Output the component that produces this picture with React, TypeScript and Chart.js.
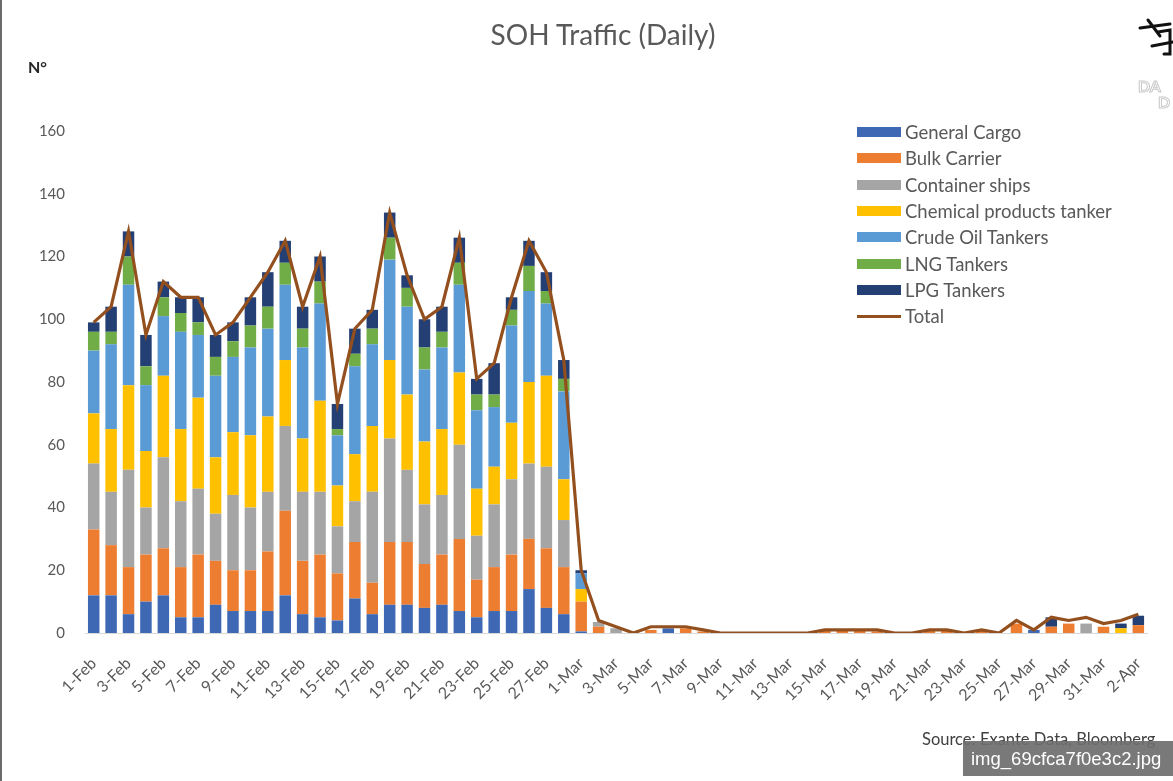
import React, { useEffect, useRef } from "react";
import { Chart, registerables } from "chart.js";

Chart.register(...registerables);

// ---------- data ----------
const categories = [
  "1-Feb", "2-Feb", "3-Feb", "4-Feb", "5-Feb", "6-Feb", "7-Feb", "8-Feb", "9-Feb", "10-Feb",
  "11-Feb", "12-Feb", "13-Feb", "14-Feb", "15-Feb", "16-Feb", "17-Feb", "18-Feb", "19-Feb", "20-Feb",
  "21-Feb", "22-Feb", "23-Feb", "24-Feb", "25-Feb", "26-Feb", "27-Feb", "28-Feb",
  "1-Mar", "2-Mar", "3-Mar", "4-Mar", "5-Mar", "6-Mar", "7-Mar", "8-Mar", "9-Mar", "10-Mar",
  "11-Mar", "12-Mar", "13-Mar", "14-Mar", "15-Mar", "16-Mar", "17-Mar", "18-Mar", "19-Mar", "20-Mar",
  "21-Mar", "22-Mar", "23-Mar", "24-Mar", "25-Mar", "26-Mar", "27-Mar", "28-Mar", "29-Mar", "30-Mar",
  "31-Mar", "1-Apr", "2-Apr",
];

const generalCargo = [
  12, 12, 6, 10, 12, 5, 5, 9, 7, 7, 7, 12, 6, 5, 4, 11, 6, 9, 9, 8, 9, 7, 5, 7, 7, 14, 8, 6,
  0.5, 0, 0, 0, 0, 1.5, 0, 0, 0, 0, 0, 0, 0, 0, 0, 0, 0, 0, 0, 0, 0, 0, 0, 0, 0, 0, 1, 0, 0, 0, 0, 0, 0,
];
const bulkCarrier = [
  21, 16, 15, 15, 15, 16, 20, 14, 13, 13, 19, 27, 17, 20, 15, 18, 10, 20, 20, 14, 16, 23, 12, 14, 18, 16, 19, 15,
  9.5, 2, 0, 0, 1, 0, 1.5, 0.5, 0, 0, 0, 0, 0, 0, 1, 1, 1, 0.5, 0, 0, 1, 1, 0, 1, 0, 3, 0, 2, 3, 0, 2, 0, 2.5,
];
const containerShips = [
  21, 17, 31, 15, 29, 21, 21, 15, 24, 20, 19, 27, 22, 20, 15, 13, 29, 33, 23, 19, 19, 30, 14, 20, 24, 24, 26, 15,
  0, 1.5, 1.5, 0, 0, 0, 0, 0, 0, 0, 0, 0, 0, 0, 0, 0, 0, 0, 0, 0, 0, 0, 0, 0, 0, 0, 0, 0, 0, 3, 0, 0, 0,
];
const chemicalTankers = [
  16, 20, 27, 18, 26, 23, 29, 18, 20, 23, 24, 21, 17, 29, 13, 15, 21, 25, 24, 20, 21, 23, 15, 12, 18, 26, 29, 13,
  4, 0, 0, 0, 0, 0, 0, 0, 0, 0, 0, 0, 0, 0, 0, 0, 0, 0, 0, 0, 0, 0, 0, 0, 0, 0, 0, 0, 0, 0, 0, 1.5, 0,
];
const crudeOilTankers = [
  20, 27, 32, 21, 19, 31, 20, 26, 24, 28, 28, 24, 29, 31, 16, 28, 26, 32, 28, 23, 26, 28, 25, 19, 31, 29, 23, 28,
  5, 0, 0, 0, 0, 0, 0, 0, 0, 0, 0, 0, 0, 0, 0, 0, 0, 0, 0, 0, 0, 0, 0, 0, 0, 0, 0, 0, 0, 0, 0, 0, 0,
];
const lngTankers = [
  6, 4, 9, 6, 6, 6, 4, 6, 5, 7, 7, 7, 6, 7, 2, 4, 5, 7, 6, 7, 5, 7, 5, 4, 5, 8, 4, 4,
  0, 0, 0, 0, 0, 0, 0, 0, 0, 0, 0, 0, 0, 0, 0, 0, 0, 0, 0, 0, 0, 0, 0, 0, 0, 0, 0, 0, 0, 0, 0, 0, 0,
];
const lpgTankers = [
  3, 8, 8, 10, 5, 5, 8, 7, 6, 9, 11, 7, 7, 8, 8, 8, 6, 8, 4, 9, 8, 8, 5, 10, 4, 8, 6, 6,
  1, 0, 0, 0, 0, 0, 0, 0, 0, 0, 0, 0, 0, 0, 0, 0, 0, 0, 0, 0, 0, 0, 0, 0, 0, 0, 0, 3, 0, 0, 0, 1.5, 3,
];
const totalShips = [
  99, 104, 128, 95, 112, 107, 107, 95, 99, 107, 115, 125, 104, 120, 73, 97, 103, 134, 114, 100,
  104, 126, 81, 86, 107, 125, 115, 87,
  20, 4, 2, 0, 2, 2, 2, 1, 0, 0, 0, 0, 0, 0, 1, 1, 1, 1, 0, 0, 1, 1, 0, 1, 0, 4, 1, 5, 4, 5, 3, 4, 6,
];

const seriesNames = [
  "General Cargo",
  "Bulk Carrier",
  "Container ships",
  "Chemical products tanker",
  "Crude Oil Tankers",
  "LNG Tankers",
  "LPG Tankers",
];
const seriesValues = [
  generalCargo,
  bulkCarrier,
  containerShips,
  chemicalTankers,
  crudeOilTankers,
  lngTankers,
  lpgTankers,
];
const totalName = "Total";

const yMin = 0;
const yMax = 160;
const yStep = 20;

// ---------- styles ----------
const seriesColors = ["#3E68B4", "#ED7D31", "#A5A5A5", "#FFC000", "#5B9BD5", "#70AD47", "#243F73"];
const totalColor = "#93501E";
const FONT = "Lato, 'Open Sans', sans-serif";
const GREY = "#595959";

export default function App() {
  const canvasRef = useRef<HTMLCanvasElement | null>(null);

  useEffect(() => {
    const canvas = canvasRef.current;
    if (!canvas) return;
    Chart.defaults.font.family = FONT;
    const chart = new Chart(canvas, {
      type: "bar",
      data: {
        labels: categories,
        datasets: [
          {
            type: "line",
            label: totalName,
            data: totalShips,
            borderColor: totalColor,
            backgroundColor: totalColor,
            borderWidth: 3.2,
            pointRadius: 0,
            tension: 0,
            stack: "total",
            order: 0,
          } as any,
          ...seriesNames.map((name, i) => ({
            type: "bar",
            label: name,
            data: seriesValues[i],
            backgroundColor: seriesColors[i],
            borderWidth: 0,
            stack: "ships",
            order: 1,
            barPercentage: 0.66,
            categoryPercentage: 1,
          })),
        ],
      },
      options: {
        animation: false,
        responsive: false,
        maintainAspectRatio: false,
        layout: { padding: { left: 0, right: 10, top: 131, bottom: 0 } },
        plugins: {
          legend: { display: false },
          tooltip: { enabled: false },
          title: { display: false },
        },
        scales: {
          x: {
            stacked: true,
            grid: { display: false, drawTicks: false },
            border: { display: true, color: "#D9D9D9", width: 1 },
            ticks: {
              autoSkip: false,
              minRotation: 45,
              maxRotation: 45,
              padding: 21,
              color: GREY,
              font: { family: FONT, size: 16 },
              callback: (_v: any, i: number) => (i % 2 === 0 ? categories[i] : ""),
            },
            afterFit: (s: any) => {
              s.height = 148;
            },
          },
          y: {
            stacked: true,
            min: yMin,
            max: yMax,
            grid: { display: false, drawTicks: false },
            border: { display: false },
            ticks: {
              stepSize: yStep,
              padding: 20,
              color: GREY,
              font: { family: FONT, size: 15 },
            },
            afterFit: (s: any) => {
              s.width = 85;
            },
          },
        },
      } as any,
    });
    return () => chart.destroy();
  }, []);

  const legendRows = [
    ...seriesNames.map((n, i) => ({ name: n, color: seriesColors[i], line: false })),
    { name: totalName, color: totalColor, line: true },
  ];

  return (
    <div
      style={{
        position: "fixed",
        left: 0,
        top: 0,
        width: 1173,
        height: 781,
        background: "#ffffff",
        overflow: "hidden",
        fontFamily: FONT,
      }}
    >
      <canvas
        ref={canvasRef}
        width={1173}
        height={781}
        style={{ position: "absolute", left: 0, top: 0, width: 1173, height: 781 }}
      />
      {/* left frame line */}
      <div style={{ position: "absolute", left: 0, top: 0, width: 2, height: 781, background: "#6a6a6a" }} />

      {/* title */}
      <div
        style={{
          position: "absolute",
          left: 403,
          width: 400,
          top: 17,
          textAlign: "center",
          fontSize: 28,
          color: GREY,
          lineHeight: "34px",
        }}
      >
        SOH Traffic (Daily)
      </div>

      {/* y unit */}
      <div
        style={{
          position: "absolute",
          left: 28,
          top: 57,
          fontSize: 16,
          fontWeight: 700,
          color: "#262626",
          lineHeight: "20px",
        }}
      >
        N°
      </div>

      {/* legend */}
      {legendRows.map((r, i) => (
        <div
          key={r.name}
          style={{
            position: "absolute",
            left: 857,
            top: 122 + i * 26.3,
            height: 20,
            display: "flex",
            alignItems: "center",
            whiteSpace: "nowrap",
          }}
        >
          <div
            style={{
              width: 44,
              height: r.line ? 3 : 10,
              background: r.color,
              marginRight: 4,
            }}
          />
          <span style={{ fontSize: 18.5, color: GREY, lineHeight: "20px" }}>{r.name}</span>
        </div>
      ))}

      {/* source */}
      <div
        style={{
          position: "absolute",
          left: 922,
          top: 729,
          fontSize: 16.5,
          color: "#404040",
          lineHeight: "20px",
          whiteSpace: "nowrap",
        }}
      >
        Source: Exante Data, Bloomberg
      </div>

      {/* logo (partial, top right) */}
      <svg
        style={{ position: "absolute", left: 1130, top: 10, width: 43, height: 60 }}
        viewBox="0 0 43 60"
      >
        <g stroke="#111" strokeWidth="3" fill="none" strokeLinecap="round">
          <line x1="10" y1="18" x2="40" y2="14" />
          <line x1="18" y1="10" x2="30" y2="26" />
          <path d="M28 22 L40 20 L40 44 L34 44" />
          <line x1="22" y1="36" x2="43" y2="32" />
        </g>
      </svg>
      <div
        style={{
          position: "absolute",
          left: 1138,
          top: 78,
          fontSize: 16,
          fontWeight: 700,
          color: "#ffffff",
          WebkitTextStroke: "1px #c8c8c8",
          lineHeight: "16px",
          whiteSpace: "nowrap",
        }}
      >
        DA
        <br />
        <span style={{ marginLeft: 20 }}>D</span>
      </div>

      {/* watermark */}
      <div
        style={{
          position: "absolute",
          left: 963,
          top: 741,
          width: 210,
          height: 35,
          background: "rgba(110,110,110,0.92)",
          color: "#ffffff",
          fontFamily: "'Liberation Sans', Arial, sans-serif",
          fontSize: 18.5,
          lineHeight: "35px",
          paddingLeft: 8,
          boxSizing: "border-box",
          whiteSpace: "nowrap",
        }}
      >
        img_69cfca7f0e3c2.jpg
      </div>
    </div>
  );
}
